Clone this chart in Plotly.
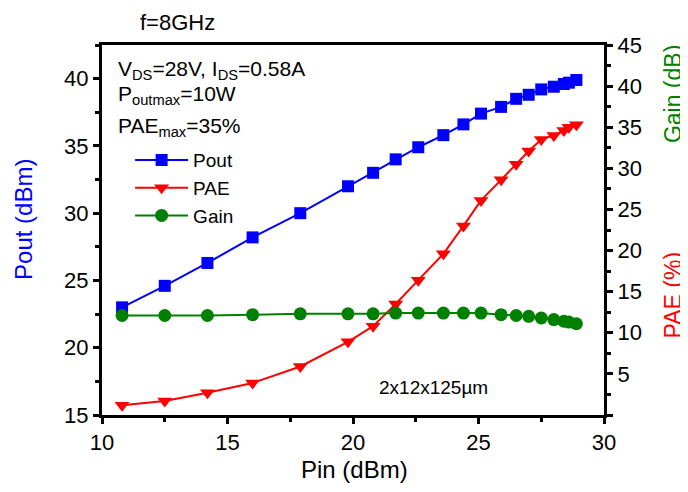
import plotly.graph_objects as go

# ---- data ----
pin = [10.8, 12.5, 14.2, 16.0, 17.9, 19.8, 20.8, 21.7, 22.6, 23.6,
       24.4, 25.1, 25.9, 26.5, 27.0, 27.5, 28.0, 28.4, 28.6, 28.9]
pout = [23.0, 24.6, 26.3, 28.2, 30.0, 32.0, 33.0, 34.0, 34.9, 35.8,
        36.6, 37.4, 37.9, 38.5, 38.8, 39.2, 39.4, 39.6, 39.7, 39.9]
pae = [1.2, 1.7, 2.7, 3.9, 5.9, 8.9, 10.8, 13.5, 16.4, 19.6,
       23.0, 26.1, 28.6, 30.5, 32.1, 33.5, 34.0, 34.6, 35.0, 35.3]
gain = [12.1, 12.1, 12.1, 12.2, 12.3, 12.3, 12.3, 12.4, 12.4, 12.4,
        12.4, 12.4, 12.2, 12.1, 12.0, 11.8, 11.6, 11.4, 11.3, 11.1]

x_ticks = [10, 15, 20, 25, 30]
y_ticks = [15, 20, 25, 30, 35, 40]
y2_ticks = [0, 5, 10, 15, 20, 25, 30, 35, 40, 45]
y2_labels = [""] + [str(v) for v in y2_ticks[1:]]

FONT = "Liberation Sans, Arial, sans-serif"
BLUE, RED, GREEN = "#0000FF", "#FF0000", "#008000"

fig = go.Figure()
fig.add_trace(go.Scatter(x=pin, y=pout, name="Pout", mode="lines+markers",
                         line=dict(color=BLUE, width=2),
                         marker=dict(symbol="square", size=12, color=BLUE)))
fig.add_trace(go.Scatter(x=pin, y=pae, name="PAE", mode="lines+markers", yaxis="y2",
                         line=dict(color=RED, width=2),
                         marker=dict(symbol="triangle-down", size=13, color=RED)))
fig.add_trace(go.Scatter(x=pin, y=gain, name="Gain", mode="lines+markers", yaxis="y2",
                         line=dict(color=GREEN, width=2),
                         marker=dict(symbol="circle", size=13, color=GREEN)))

axis_common = dict(showline=True, linecolor="black", linewidth=3, ticks="outside",
                   ticklen=6, tickwidth=3, tickcolor="black", showgrid=False,
                   zeroline=False, tickfont=dict(family=FONT, size=22, color="black"))
minor = dict(ticks="outside", ticklen=4, tickwidth=3, tickcolor="black", dtick=2.5, showgrid=False)

# page body has an 8px margin, so the figure is sized 8px smaller on each axis
fig.update_layout(
    width=680, height=484,
    margin=dict(l=94, r=84, t=37, b=77),
    paper_bgcolor="white", plot_bgcolor="white",
    font=dict(family=FONT, size=20, color="black"),
    showlegend=True,
    legend=dict(x=0.056, y=0.740, xanchor="left", yanchor="top", itemwidth=53,
                bgcolor="rgba(0,0,0,0)", font=dict(family=FONT, size=19, color="black"),
                tracegroupgap=0),
    xaxis=dict(range=[10, 30], tickmode="array", tickvals=x_ticks, mirror=True,
               minor=minor, **axis_common),
    yaxis=dict(range=[15, 42.5], tickmode="array", tickvals=y_ticks,
               minor=minor, **axis_common),
    yaxis2=dict(range=[0, 45], overlaying="y", side="right", tickmode="array",
                tickvals=y2_ticks, ticktext=y2_labels, minor=minor, **axis_common),
)

ann = [
    dict(text="Pout (dBm)", x=-0.156, y=0.529, textangle=-90, font=dict(color=BLUE, size=24)),
    dict(text="Gain (dB)", x=1.138, y=0.868, textangle=-90, font=dict(color=GREEN, size=23)),
    dict(text="PAE (%)", x=1.138, y=0.324, textangle=-90, font=dict(color=RED, size=23)),
    dict(text="Pin (dBm)", x=0.502, y=-0.148, font=dict(size=24)),
    dict(text="f=8GHz", x=0.0717, y=1.062, xanchor="left", font=dict(size=22)),
    dict(text="V<sub>DS</sub>=28V, I<sub>DS</sub>=0.58A", x=0.028, y=0.933, xanchor="left", font=dict(size=21)),
    dict(text="P<sub>outmax</sub>=10W", x=0.028, y=0.865, xanchor="left", font=dict(size=21)),
    dict(text="PAE<sub>max</sub>=35%", x=0.028, y=0.779, xanchor="left", font=dict(size=21)),
    dict(text="2x12x125µm", x=0.773, y=0.075, xanchor="right", font=dict(size=19)),
]
for a in ann:
    a.setdefault("xanchor", "center")
    fig.add_annotation(xref="paper", yref="paper", showarrow=False, yanchor="middle",
                       **{k: v for k, v in a.items()})

fig.write_html("out.html")
